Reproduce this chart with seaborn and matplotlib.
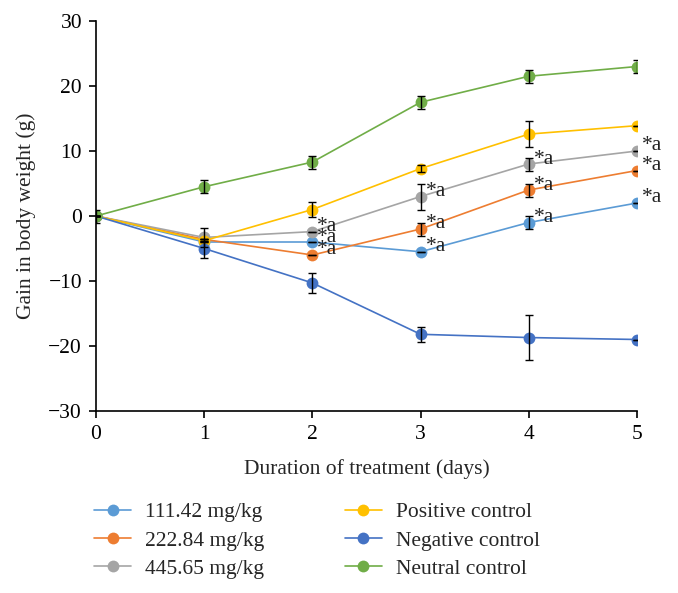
import pandas as pd
import matplotlib
matplotlib.use('Agg')
import matplotlib.pyplot as plt
import seaborn as sns

days = [0, 1, 2, 3, 4, 5]
groups = ['111.42 mg/kg', '222.84 mg/kg', '445.65 mg/kg',
          'Positive control', 'Negative control', 'Neutral control']
colors = ['#5B9BD5', '#ED7D31', '#A5A5A5', '#FFC000', '#4472C4', '#70AD47']

dose_111 = [0, -4.0, -4.0, -5.5, -1.0, 2.0]
dose_222 = [0, -3.6, -6.0, -2.0, 4.0, 7.0]
dose_445 = [0, -3.3, -2.4, 3.0, 8.0, 10.0]
positive = [0, -3.8, 1.0, 7.3, 12.6, 13.9]
negative = [0, -5.0, -10.3, -18.2, -18.7, -19.0]
neutral = [0, 4.5, 8.3, 17.5, 21.5, 23.0]

err_111 = [0, 0, 0, 0, 1.0, 0]
err_222 = [0, 0, 0, 1.0, 1.0, 0]
err_445 = [0, 1.5, 0, 2.0, 1.0, 0]
err_pos = [0, 0, 1.1, 0.5, 2.0, 0]
err_neg = [0, 1.4, 1.6, 1.2, 3.5, 0]
err_neu = [1.0, 1.0, 1.0, 1.0, 1.0, 1.0]

values = [dose_111, dose_222, dose_445, positive, negative, neutral]
errors = [err_111, err_222, err_445, err_pos, err_neg, err_neu]

# significance marks "*a" on the three doses from day 2
sig_days = [2, 3, 4, 5]
sig_groups = [0, 1, 2]

df = pd.DataFrame({
    'day': days * len(groups),
    'gain': sum(values, []),
    'group': [g for g in groups for _ in days],
})

sns.set_style('ticks')
plt.rcParams['font.family'] = ['Liberation Serif', 'DejaVu Serif']
fs = 15.5

fig = plt.figure(figsize=(6.78, 5.93), dpi=100)
ax = fig.add_axes([96 / 678, 1 - 411 / 593, (637 - 96) / 678, 390 / 593])

sns.lineplot(data=df, x='day', y='gain', hue='group', hue_order=groups,
             palette=colors, marker='o', markersize=8.5, markeredgewidth=0,
             linewidth=1.2, ax=ax, legend=True)

for vals, errs in zip(values, errors):
    ax.errorbar(days, vals, yerr=errs, fmt='none', ecolor='black',
                elinewidth=1.0, capsize=2.6, capthick=1.0, zorder=5)

for gi in sig_groups:
    for d in sig_days:
        ax.annotate('*a', (d, values[gi][d]), xytext=(5, 5),
                    textcoords='offset pixels', ha='left', va='center',
                    fontsize=fs, color='#222222')

ax.set_xlim(0, 5)
ax.set_ylim(-30, 30)
ax.set_xticks(days)
ax.set_yticks(range(-30, 31, 10))
ax.tick_params(labelsize=fs, colors='black', length=5, width=1.2, pad=5)
ax.set_xlabel('Duration of treatment (days)', fontsize=fs, labelpad=11)
ax.set_ylabel('Gain in body weight (g)', fontsize=fs, labelpad=9)
for s in ['top', 'right']:
    ax.spines[s].set_visible(False)
for s in ['left', 'bottom']:
    ax.spines[s].set_color('black')
    ax.spines[s].set_linewidth(1.2)

handles, labels = ax.get_legend_handles_labels()
ax.get_legend().remove()
fig.legend(handles, labels, loc='upper left', bbox_to_anchor=(75 / 678, 1 - 483 / 593),
           ncol=2, frameon=False, fontsize=fs, handlelength=1.7,
           columnspacing=3.75, labelspacing=0.38, handletextpad=0.65)

fig.savefig('out.png', dpi=100)
